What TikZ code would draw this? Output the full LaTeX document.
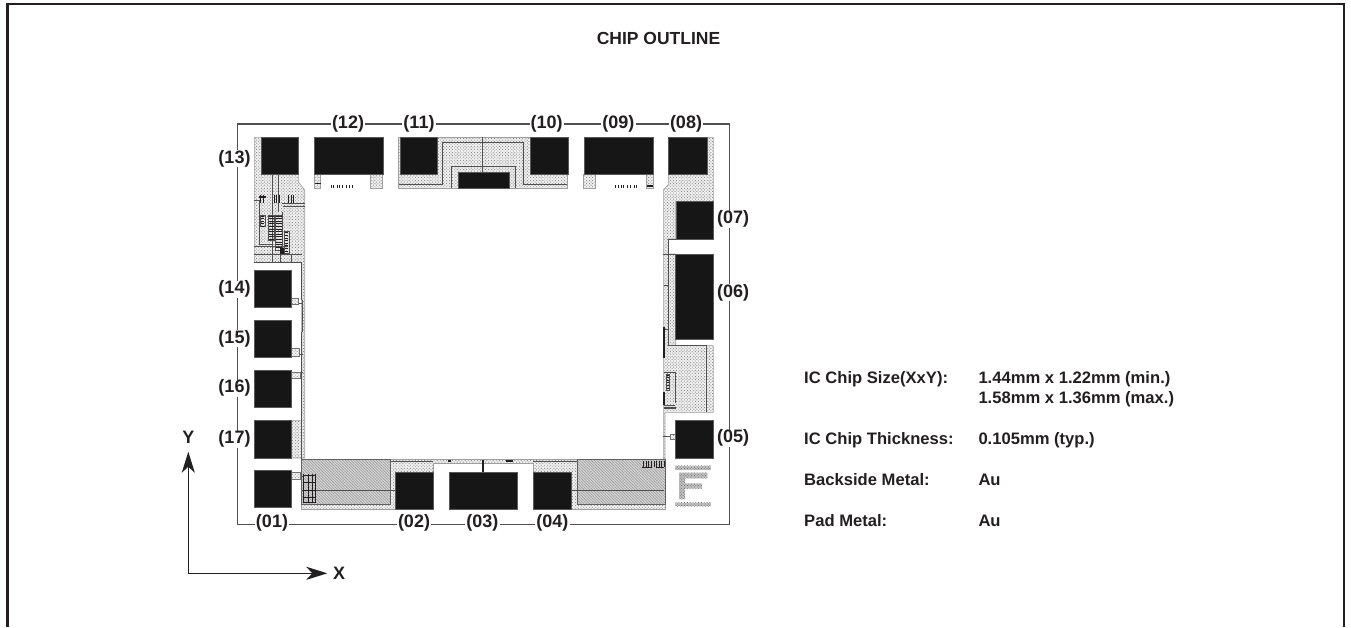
\documentclass[tikz,border=0pt]{standalone}
\usepackage{fontspec}
\setmainfont{Liberation Sans}
\usetikzlibrary{arrows.meta,patterns.meta}
\definecolor{ink}{HTML}{231F20}
\definecolor{padfill}{HTML}{161616}
\definecolor{wirec}{HTML}{505050}
\tikzset{
 x=1pt,y=-1pt,
 padbox/.style={fill=padfill,draw=gray!70!black,line width=.6pt,anchor=north west,inner sep=0pt,outer sep=0pt},
 stip/.style={preaction={fill=gray!10},pattern={Dots[distance=2.2pt,radius=.66pt,angle=45]},pattern color=gray!90,draw=gray!75,line width=.6pt},
 hatchy/.style={preaction={fill=gray!30},pattern={Lines[angle=-45,distance=2pt,line width=.75pt]},pattern color=gray!75,draw=gray!75!black,line width=.7pt},
 fstip/.style={preaction={fill=gray!45},pattern={Dots[distance=2pt,radius=.65pt,angle=45]},pattern color=gray!90!black},
 wire/.style={draw=wirec,line width=.8pt},
 dk/.style={draw=ink,line width=1.1pt},
 tab/.style={preaction={fill=gray!10},pattern={Dots[distance=2.2pt,radius=.6pt,angle=45]},pattern color=gray!80,draw=gray!90!black,line width=.5pt},
 plab/.style={fill=white,text=ink,font=\fontsize{18}{20}\selectfont\bfseries,inner sep=1.2pt,inner ysep=0pt},
 txt/.style={text=ink,font=\fontsize{16.6}{20}\selectfont\bfseries,inner sep=0pt,anchor=base west},
 outl/.style={draw=wirec,line width=1.1pt},
 axis/.style={draw=ink,line width=1.3pt,-{Stealth[length=21pt,width=13pt,inset=6pt]}},
}
\newcommand{\ladder}[4]{\draw[wire] (#1,#2) rectangle (#3,#4);
 \foreach \yy in {0,1,...,12}{\pgfmathsetmacro{\cy}{#2+1+\yy*2.6}\pgfmathparse{\cy<#4?1:0}\ifnum\pgfmathresult=1 \draw[draw=ink,line width=.8pt] (#1+.7,\cy) -- (#3-.7,\cy);\fi}}
\begin{document}
\begin{tikzpicture}
\useasboundingbox (0,0) rectangle (1351,627);
\draw[draw=ink,line width=2.6pt] (7.5,627) -- (7.5,3.8) -- (1344,3.8) -- (1344,627);
% chip corners
\coordinate (fa) at (237.3,124); \coordinate (fb) at (729.3,124);
\coordinate (fc) at (729.3,524.3); \coordinate (fd) at (237.3,524.3);
\draw[outl] (fa) -- (fb) -- (fc) -- (fd) -- cycle;
% top-left metal
\draw[stip] (254.3,137.3) -- (298.3,137.3) -- (298.3,181.7) -- (304.7,190) -- (304.7,458) -- (291.7,458) -- (291.7,420.7) -- (301.7,420.7) -- (301.7,262.3) -- (254.3,262.3) -- cycle;
% top legs
\draw[stip] (314.7,174) rectangle (320.7,188.7);
\draw[stip] (370.7,174) rectangle (382.7,188.7);
\draw[stip] (583.3,174) rectangle (595,188.7);
\draw[stip] (646.7,174) rectangle (653.3,188.7);
\draw[dk] (315,183.5) -- (320.5,183.5); \draw[dk] (647,186) -- (653,186);
\foreach \mx in {331,333,337,339,342,346,349,352}{\draw[draw=ink,line width=.5pt] (\mx,185) -- (\mx,188.3);}
\foreach \mx in {615.5,618,621,623.5,627,630,634,636}{\draw[draw=ink,line width=.5pt] (\mx,185) -- (\mx,188.3);}
% top middle metal
\draw[stip] (398.3,137.3) rectangle (567.7,188.3);
\draw[wire] (399.3,184.3) -- (442.7,184.3) -- (442.7,142.7) -- (523.3,142.7) -- (523.3,184.3) -- (566.7,184.3);
\draw[wire] (451.7,188.3) -- (451.7,166.7) -- (515,166.7) -- (515,188.3);
\draw[wire] (482.7,137.3) -- (482.7,172.3);
% right metal
\draw[stip] (668.7,137.3) -- (713.3,137.3) -- (713.3,201.7) -- (675.7,201.7) -- (675.7,239) -- (668.3,239) -- (668.3,254) -- (675.7,254) -- (675.7,345.7) -- (713.3,345.7) -- (713.3,412.3) -- (665,412.3) -- (665,459) -- (663.3,459) -- (663.3,190) -- (668.7,184) -- cycle;
\draw[wire] (675.7,239) -- (668.3,239) -- (668.3,345) -- (706.7,345) -- (706.7,412);
\draw[wire] (663.3,254) -- (675.7,254);
\draw[wire] (663.5,285) -- (669,285);
\draw[wire] (664,329) -- (669,329);
\draw[dk,line width=1.4pt] (664,326.7) -- (664,358);
\draw[dk,line width=1.4pt] (664,391.7) -- (664,405);
\draw[wire] (664,372.3) -- (675,372.3) -- (675,403.3);
\ladder{666.5}{374}{669.5}{390}
\draw[wire] (664,405) -- (675,405);
\draw[draw=gray!60!black,line width=1.2pt] (664,408) -- (675.7,408);
% bottom metal
\draw[stip] (301.7,459) -- (665,459) -- (665,509) -- (533.3,509) -- (533.3,463.3) -- (433.3,463.3) -- (433.3,509) -- (301.7,509) -- cycle;
\draw[hatchy] (301.7,459) -- (390,459) -- (390,504.3) -- (301.7,504.3) -- cycle;
\draw[hatchy] (577.3,459.5) -- (665,459.5) -- (665,504.3) -- (577.3,504.3) -- cycle;
\draw[wire] (301.7,490.3) -- (395.7,490.3);
\draw[wire] (571,490.7) -- (664,490.7);
\draw[wire] (390,461.3) -- (433.3,461.3);
\draw[wire] (533.3,461.3) -- (577.3,461.3);
\draw[dk,line width=1.3pt] (483,459.5) -- (483,472.7);
\draw[dk] (448,461) -- (451,461); \draw[dk] (506,461) -- (513,461);
% bottom-left block
\foreach \bx in {303,308,312,315.5}{\draw[draw=ink,line width=.6pt] (\bx,473.5) -- (\bx,503);}
\foreach \by in {475,482,490,497,502}{\draw[draw=ink,line width=.6pt] (302.5,\by) -- (316,\by);}
% bottom-right marks
\foreach \bx in {643,646,648.5,651,654,656.5,659,661.5,664}{\draw[draw=ink,line width=.8pt] (\bx,460.5) -- (\bx,467);}
\draw[dk] (642.3,467.5) -- (652,467.5); \draw[dk] (656,467.5) -- (664,467.5);
% top-left circuit
\draw[wire] (254.3,200) -- (259.3,200) -- (259.3,244) -- (272,244);
\draw[wire] (254.3,246.7) -- (288.3,246.7);
\draw[wire] (272.3,174) -- (272.3,261.7);
\draw[wire] (278.3,174) -- (278.3,211.7);
\draw[wire] (282.7,206.7) -- (304.7,206.7);
\draw[wire] (282,203.5) -- (304.7,203.5);
\draw[wire] (254.3,254.3) -- (301.7,254.3);
\draw[wire] (291,254.3) -- (291,262);
\draw[wire] (280,262) -- (280,246);
\draw[wire,line width=1.1pt] (254.3,262.3) -- (301.7,262.3) -- (301.7,300);
\draw[wire] (282,212) -- (282,232);
\foreach \mx in {260,263,274,276,279,288,291,293.5}{\draw[draw=ink,line width=.6pt] (\mx,194.5) -- (\mx,202.5);}
\draw[dk,line width=1.5pt] (259,197) -- (266,197);
\ladder{260.7}{215}{265}{226.7}
\ladder{268.3}{215}{274.5}{240}
\ladder{275.5}{215}{282.7}{250}
\ladder{284}{231.7}{289}{253}
\fill[ink] (280,248) rectangle (284,254);
% left wires
\draw[wire,line width=1.2pt] (302.3,300) -- (302.3,331.7);
\draw[wire,line width=.5pt] (301.7,331.7) -- (301.7,458.5);
\draw[wire] (298.3,303.3) -- (303,303.3);
\draw[wire] (299.3,354) -- (303,354);
\draw[wire] (300,372) -- (303,372);
\draw[wire] (300,476) -- (303,476);
\draw[tab] (291.7,298.3) rectangle (298.3,304.3);
\draw[tab] (291.7,348.7) rectangle (299.3,356);
\draw[tab] (291.7,372) rectangle (300,378.7);
\draw[tab] (291.7,472.7) rectangle (300,479.3);
\draw[tab] (670,434.3) rectangle (675.7,439.3);
\draw[wire] (663.3,436.7) -- (670,436.7);
% F logo
\fill[fstip] (675.3,465.7) rectangle (710.7,469.7);
\fill[fstip] (675.3,502.7) rectangle (710.7,506);
\fill[fstip] (679,472.7) -- (707.3,472.7) -- (707.3,478.3) -- (685,478.3) -- (685,483.3) -- (702,483.3) -- (702,488.7) -- (685,488.7) -- (685,499.3) -- (679,499.3) -- cycle;
% pads
\node[padbox,minimum width=37pt,minimum height=37pt] (p13) at (261.3,137.3) {};
\node[padbox,minimum width=69pt,minimum height=37pt] (p12) at (314.7,137.3) {};
\node[padbox,minimum width=37.3pt,minimum height=37pt] (p11) at (400,137.3) {};
\node[padbox,minimum width=51pt,minimum height=16pt] (ptc) at (458.3,172.3) {};
\node[padbox,minimum width=37.3pt,minimum height=37pt] (p10) at (530.7,137.3) {};
\node[padbox,minimum width=68.3pt,minimum height=37pt] (p09) at (584.7,137.3) {};
\node[padbox,minimum width=38.3pt,minimum height=37pt] (p08) at (668.7,137.3) {};
\node[padbox,minimum width=37.3pt,minimum height=37.3pt] (p07) at (676,201.7) {};
\node[padbox,minimum width=37.3pt,minimum height=85pt] (p06) at (675.7,254) {};
\node[padbox,minimum width=37.6pt,minimum height=37.7pt] (p05) at (675.7,420.3) {};
\node[padbox,minimum width=37pt,minimum height=37.3pt] (p14) at (254.7,270) {};
\node[padbox,minimum width=37pt,minimum height=37pt] (p15) at (254.7,320.3) {};
\node[padbox,minimum width=37pt,minimum height=37pt] (p16) at (254.7,370.7) {};
\node[padbox,minimum width=37pt,minimum height=37.3pt] (p17) at (254.7,420.7) {};
\node[padbox,minimum width=37pt,minimum height=36.6pt] (p01) at (254.7,470.7) {};
\node[padbox,minimum width=37.6pt,minimum height=36.4pt] (p02) at (395.7,472.7) {};
\node[padbox,minimum width=68.4pt,minimum height=36.6pt] (p03) at (449.3,472.7) {};
\node[padbox,minimum width=37.7pt,minimum height=36.4pt] (p04) at (533.3,472.7) {};
% pad labels
\node[plab] (l12) at (348,123.7) {(12)};
\node[plab] (l11) at (419,123.7) {(11)};
\node[plab] (l10) at (546.7,123.7) {(10)};
\node[plab] (l09) at (618.3,123.7) {(09)};
\node[plab] (l08) at (686,123.7) {(08)};
\node[plab] (l07) at (733,219.3) {(07)};
\node[plab] (l06) at (733,292.7) {(06)};
\node[plab] (l05) at (733,438.3) {(05)};
\node[plab] (l13) at (234.5,158.7) {(13)};
\node[plab] (l14) at (234.5,289.3) {(14)};
\node[plab] (l15) at (234.5,338.7) {(15)};
\node[plab] (l16) at (234.5,388.3) {(16)};
\node[plab] (l17) at (234.5,439.3) {(17)};
\node[plab] (l01) at (272,522.7) {(01)};
\node[plab] (l02) at (414,522.7) {(02)};
\node[plab] (l03) at (482.3,522.7) {(03)};
\node[plab] (l04) at (552.3,522.7) {(04)};
% axes
\coordinate (org) at (188.3,573.3);
\coordinate (ytip) at (188.3,451.7);
\coordinate (xtip) at (327.3,573.3);
\draw[axis] (org) -- (ytip);
\draw[axis] (org) -- (xtip);
\node[plab,fill=none] (ylab) at (188.3,437) {Y};
\node[plab,fill=none] (xlab) at (339,573) {X};
% texts
\node[text=ink,font=\fontsize{17.5}{20}\selectfont\bfseries,inner sep=0pt] (title) at (658.5,38.5) {CHIP OUTLINE};
\node[txt] (t1) at (804,383.3) {IC Chip Size(XxY):};
\node[txt] (v1) at (978.3,383.3) {1.44mm x 1.22mm (min.)};
\node[txt] (v1b) at (978.3,403.3) {1.58mm x 1.36mm (max.)};
\node[txt] (t2) at (804,444.3) {IC Chip Thickness:};
\node[txt] (v2) at (978.3,444.3) {0.105mm (typ.)};
\node[txt] (t3) at (804,485.3) {Backside Metal:};
\node[txt] (v3) at (978.3,485.3) {Au};
\node[txt] (t4) at (804,526.3) {Pad Metal:};
\node[txt] (v4) at (978.3,526.3) {Au};
\end{tikzpicture}
\end{document}
